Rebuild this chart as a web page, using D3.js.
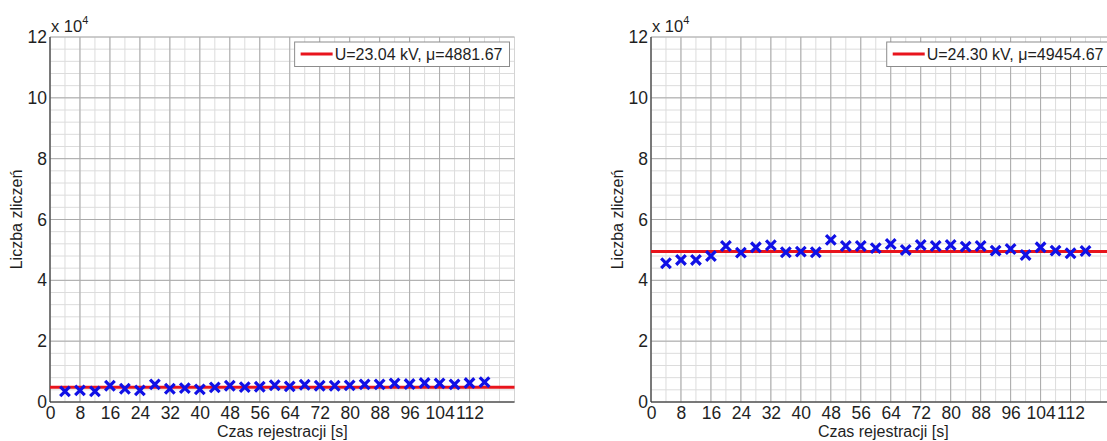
<!DOCTYPE html>
<html>
<head>
<meta charset="utf-8">
<script src="https://cdn.jsdelivr.net/npm/d3@7"></script>
<style>
  html, body { margin: 0; padding: 0; background: #fff; }
  svg { display: block; }
  text { font-family: "Liberation Sans", Arial, Helvetica, sans-serif; fill: #1f1f1f; }
</style>
</head>
<body>
<svg id="chart" width="1107" height="441"></svg>
<script>
// Registration times [s]
const time = [4, 8, 12, 16, 20, 24, 28, 32, 36, 40, 44, 48, 52, 56, 60,
              64, 68, 72, 76, 80, 84, 88, 92, 96, 100, 104, 108, 112, 116];

// Counts recorded at U = 23.04 kV
const countsLow = [3490, 3820, 3490, 5350, 4370, 3820, 5790, 4370, 4580, 4150,
                   4800, 5350, 4910, 5020, 5500, 5130, 5680, 5350, 5350, 5460,
                   5790, 5790, 6110, 5900, 6230, 6110, 5790, 6230, 6550];

// Counts recorded at U = 24.30 kV
const countsHigh = [45610, 46700, 46700, 48010, 51300, 49110, 50860, 51520, 49220, 49440,
                    49220, 53300, 51300, 51300, 50600, 51950, 49980, 51620, 51300, 51620,
                    51080, 51300, 49760, 50310, 48340, 50860, 49760, 48890, 49650];

// Mean counts and voltages shown in the legends
const meanLow = 4881.67, meanHigh = 49454.67;
const voltLow = "23.04", voltHigh = "24.30";

// Axis ticks
const xTicks = [0, 8, 16, 24, 32, 40, 48, 56, 64, 72, 80, 88, 96, 104, 112];
const yTicks = [0, 20000, 40000, 60000, 80000, 100000, 120000];
const xMinor = d3.range(0, 125, 4);
const yMinor = d3.range(0, 120001, 4000);

const xLabel = "Czas rejestracji [s]";
const yLabel = "Liczba zliczeń";

const svg = d3.select("#chart");

function panel(left, counts, mean, volt) {
  const top = 37, bottom = 402, width = 464.5;
  const x = d3.scaleLinear().domain([0, 124]).range([left, left + width]);
  const y = d3.scaleLinear().domain([0, 120000]).range([bottom, top]);
  const g = svg.append("g");

  // minor grid
  g.append("g").selectAll("line").data(xMinor).join("line")
    .attr("x1", d => x(d)).attr("x2", d => x(d))
    .attr("y1", top).attr("y2", bottom)
    .attr("stroke", "#dcdcdc").attr("stroke-width", 1);
  g.append("g").selectAll("line").data(yMinor).join("line")
    .attr("x1", left).attr("x2", left + width)
    .attr("y1", d => y(d)).attr("y2", d => y(d))
    .attr("stroke", "#dcdcdc").attr("stroke-width", 1);

  // major grid
  g.append("g").selectAll("line").data(xTicks.concat([124])).join("line")
    .attr("x1", d => x(d)).attr("x2", d => x(d))
    .attr("y1", top).attr("y2", bottom)
    .attr("stroke", d => d === 124 ? "#d4d4d4" : "#aaaaaa").attr("stroke-width", 1);
  g.append("g").selectAll("line").data(yTicks).join("line")
    .attr("x1", left).attr("x2", left + width)
    .attr("y1", d => y(d)).attr("y2", d => y(d))
    .attr("stroke", "#aaaaaa").attr("stroke-width", 1);

  // axes
  const xAxis = d3.axisBottom(x).tickValues(xTicks).tickSize(0).tickPadding(5)
    .tickFormat(d3.format("d"));
  const gx = g.append("g").attr("transform", `translate(0,${bottom})`).call(xAxis);
  gx.select(".domain").attr("stroke", "#262626").attr("d", `M${left},0H${left + width}`);
  gx.selectAll("text").attr("font-size", 17.5).attr("fill", "#1f1f1f")
    .attr("font-family", "Liberation Sans, Arial, sans-serif");

  const yAxis = d3.axisLeft(y).tickValues(yTicks).tickSize(0).tickPadding(3)
    .tickFormat(d => d / 10000);
  const gy = g.append("g").attr("transform", `translate(${left},0)`).call(yAxis);
  gy.select(".domain").attr("stroke", "#262626").attr("d", `M0,${top}V${bottom}`);
  gy.selectAll("text").attr("font-size", 17.5).attr("fill", "#1f1f1f")
    .attr("font-family", "Liberation Sans, Arial, sans-serif");

  // exponent marker
  const ex = g.append("text").attr("x", left + 1).attr("y", 32).attr("font-size", 16.5);
  ex.append("tspan").text("x 10");
  ex.append("tspan").attr("font-size", 11).attr("dy", -8).text("4");

  // axis titles
  g.append("text").attr("x", (left + left + width) / 2).attr("y", 437)
    .attr("text-anchor", "middle").attr("font-size", 16).text(xLabel);
  g.append("text")
    .attr("transform", `translate(${left - 28},${(top + bottom) / 2}) rotate(-90)`)
    .attr("text-anchor", "middle").attr("font-size", 16).text(yLabel);

  // mean line
  g.append("line")
    .attr("x1", x(0)).attr("x2", x(124))
    .attr("y1", y(mean)).attr("y2", y(mean))
    .attr("stroke", "#e8141c").attr("stroke-width", 3);

  // data markers
  const s = 4.8;
  g.append("g").selectAll("path").data(time.map((t, i) => [t, counts[i]])).join("path")
    .attr("d", d => {
      const cx = x(d[0]), cy = y(d[1]);
      return `M${cx - s},${cy - s}L${cx + s},${cy + s}M${cx - s},${cy + s}L${cx + s},${cy - s}`;
    })
    .attr("stroke", "#1010e6").attr("stroke-width", 3.2).attr("fill", "none");

  // legend
  const lg = g.append("g");
  const box = lg.append("rect").attr("fill", "#fff").attr("stroke", "#8c8c8c").attr("stroke-width", 1);
  const label = lg.append("text").attr("font-size", 16).attr("y", top + 23)
    .text(`U=${volt} kV, μ=${mean.toFixed(2)}`);
  const tw = label.node().getComputedTextLength();
  const boxW = 40 + tw + 7, boxH = 24.5;
  const bx = left + width - 5 - boxW, by = top + 5;
  box.attr("x", bx).attr("y", by).attr("width", boxW).attr("height", boxH);
  label.attr("x", bx + 40);
  lg.append("line").attr("x1", bx + 6).attr("x2", bx + 38)
    .attr("y1", by + 12).attr("y2", by + 12)
    .attr("stroke", "#e8141c").attr("stroke-width", 3);
}

panel(50, countsLow, meanLow, voltLow);
panel(651, countsHigh, meanHigh, voltHigh);
</script>
</body>
</html>
